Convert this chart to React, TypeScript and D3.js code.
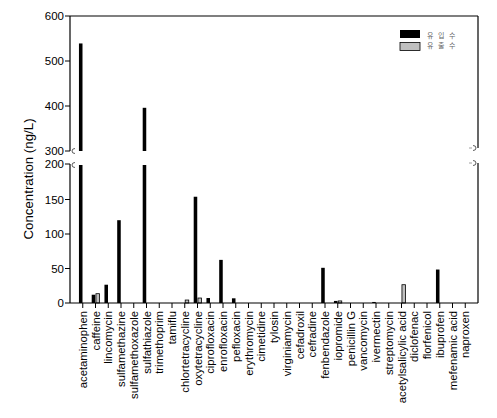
import React from "react";
import * as d3 from "d3";

const categories = [
  "acetaminophen", "caffeine", "lincomycin", "sulfamethazine", "sulfamethoxazole",
  "sulfathiazole", "trimethoprim", "tamiflu", "chlortetracycline", "oxytetracycline",
  "ciprofloxacin", "enrofloxacin", "pefloxacin", "erythromycin", "cimetidine",
  "tylosin", "virginiamycin", "cefadroxil", "cefradine", "fenbendazole",
  "iopromide", "penicillin G", "vancomycin", "ivermectin", "streptomycin",
  "acetylsalicylic acid", "diclofenac", "florfenicol", "ibuprofen", "mefenamic acid",
  "naproxen",
];
const influent = [539, 12, 26.5, 120, 0, 396, 0, 0, 0, 154, 7.2, 62.5, 6.8, 0, 0, 0, 0, 0, 0, 51, 3, 0, 0, 1.5, 0, 0, 0, 0, 48.5, 0, 0];
const effluent = [0, 13.5, 0, 0, 0, 0, 0, 0, 4.3, 7.2, 0, 0, 0, 0, 0, 0, 0, 0, 0, 0, 3, 0, 0, 0, 0, 26.5, 0, 0, 0, 0, 0];
const seriesNames = ["유입수", "유출수"];
const lowerTicks = [0, 50, 100, 150, 200];
const upperTicks = [300, 400, 500, 600];
const lowerDomain = [0, 200];
const upperDomain = [300, 600];

const W = 497, H = 418;
const left = 70, right = 478;
const yBase = 303, yLowTop = 165, yUpBottom = 151, yTop = 16;
const FONT = "'Liberation Sans', Arial, sans-serif";

export default function App() {
  const x = d3.scalePoint<string>().domain(categories).range([left, right]).padding(1);
  const yLow = d3.scaleLinear().domain(lowerDomain).range([yBase, yLowTop]);
  const yUp = d3.scaleLinear().domain(upperDomain).range([yUpBottom, yTop]);
  const sub = d3.scaleBand<string>().domain(["in", "out"]).range([-3.8, 3.6]).paddingInner(0.08);
  const bw = sub.bandwidth();

  const bars: JSX.Element[] = [];
  const drawBar = (v: number, cx: number, key: string, fill: string, stroke: string) => {
    if (v <= 0) return;
    const lowTop = yLow(Math.min(v, lowerDomain[1]));
    bars.push(
      <rect key={key + "l"} x={cx} y={lowTop} width={bw} height={yBase - lowTop} fill={fill} stroke={stroke} strokeWidth={stroke === "none" ? 0 : 0.8} />
    );
    if (v > upperDomain[0]) {
      const t = yUp(v);
      bars.push(
        <rect key={key + "u"} x={cx} y={t} width={bw} height={yUpBottom - t} fill={fill} stroke={stroke} strokeWidth={stroke === "none" ? 0 : 0.8} />
      );
    }
  };
  categories.forEach((c, i) => {
    const cx = x(c)!;
    drawBar(influent[i], cx + sub("in")!, "a" + i, "#000", "none");
    drawBar(effluent[i], cx + sub("out")! + 0.4, "b" + i, "#c0c0c0", "#000");
  });

  const breakArc = (xx: number, yy: number, dir: number) =>
    `M${xx},${yy - 2.5} q${-3 * dir},0 ${-3 * dir},2.5 q0,2.5 ${3 * dir},2.5`;

  return (
    <svg width={W} height={H} style={{ position: "absolute", left: 0, top: 0, background: "#fff" }} fontFamily={FONT}>
      <rect x={0} y={0} width={W} height={H} fill="#fff" />
      {bars}
      {/* frame */}
      <line x1={left} x2={right} y1={yTop} y2={yTop} stroke="#000" strokeWidth={1.2} />
      <line x1={left} x2={right} y1={yBase} y2={yBase} stroke="#000" strokeWidth={1.2} />
      <line x1={left} x2={left} y1={yTop} y2={yUpBottom} stroke="#000" strokeWidth={1.2} />
      <line x1={left} x2={left} y1={yLowTop - 1} y2={yBase} stroke="#000" strokeWidth={1.2} />
      <line x1={right} x2={right} y1={yTop} y2={yUpBottom - 3} stroke="#000" strokeWidth={1.2} />
      <line x1={right} x2={right} y1={yLowTop - 2} y2={yBase} stroke="#000" strokeWidth={1.2} />
      {/* break marks */}
      <path d={breakArc(left + 5, yUpBottom, 1)} fill="none" stroke="#333" strokeWidth={0.8} />
      <path d={breakArc(left + 5, yLowTop, 1)} fill="none" stroke="#333" strokeWidth={0.8} />
      <path d={breakArc(right - 5, yUpBottom - 3, -1)} fill="none" stroke="#333" strokeWidth={0.8} />
      <path d={breakArc(right - 5, yLowTop - 2, -1)} fill="none" stroke="#333" strokeWidth={0.8} />
      <line x1={right - 9} x2={right - 6} y1={yUpBottom - 3} y2={yUpBottom - 3} stroke="#888" strokeWidth={0.8} />
      <line x1={right - 9} x2={right - 6} y1={yLowTop - 2} y2={yLowTop - 2} stroke="#888" strokeWidth={0.8} />
      {/* y ticks */}
      {upperTicks.map((t) => (
        <g key={"u" + t} transform={`translate(${left},${yUp(t)})`}>
          <line x1={-5} x2={0} stroke="#000" />
          <text x={-6} dy="0.36em" textAnchor="end" fontSize={11.5}>{t}</text>
        </g>
      ))}
      {lowerTicks.map((t) => (
        <g key={"l" + t} transform={`translate(${left},${yLow(t) - (t === 200 ? 1 : 0)})`}>
          <line x1={-5} x2={0} stroke="#000" />
          <text x={-6} dy="0.36em" textAnchor="end" fontSize={11.5}>{t}</text>
        </g>
      ))}
      {/* x ticks + labels */}
      {categories.map((c) => (
        <g key={c} transform={`translate(${x(c)},${yBase})`}>
          <line y1={0} y2={5} stroke="#000" />
          <text transform="rotate(-90)" x={-8} dy="0.36em" textAnchor="end" fontSize={11.3}>{c}</text>
        </g>
      ))}
      <text transform={`translate(33,179) rotate(-90)`} textAnchor="middle" fontSize={13.3}>Concentration (ng/L)</text>
      {/* legend */}
      <rect x={400} y={30} width={20} height={8} fill="#000" />
      <rect x={400} y={42.5} width={20} height={8} fill="#c0c0c0" stroke="#000" strokeWidth={0.8} />
      <text x={427} y={38} fontSize={7} letterSpacing={4.5} fill="#666" fontFamily="'Noto Sans CJK KR', sans-serif">{seriesNames[0]}</text>
      <text x={427} y={47.5} fontSize={7} letterSpacing={4.5} fill="#666" fontFamily="'Noto Sans CJK KR', sans-serif">{seriesNames[1]}</text>
    </svg>
  );
}
